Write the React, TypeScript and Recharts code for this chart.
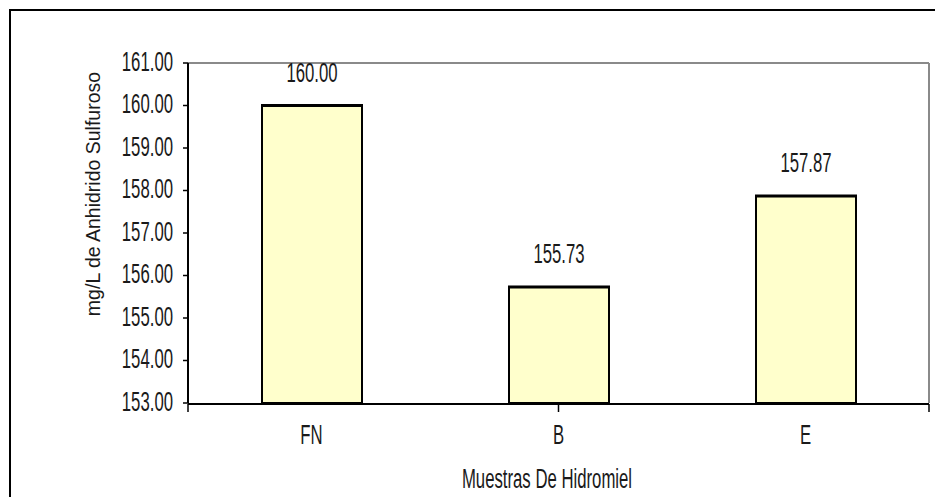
import { BarChart, Bar, XAxis, YAxis, LabelList } from 'recharts';

const muestras = ['FN', 'B', 'E'];
const sulfuroso = [160.0, 155.73, 157.87];
const yTicks = [153, 154, 155, 156, 157, 158, 159, 160, 161];
const edgeTicks = [0, 1, 2, 3];

const data = muestras.map((m, i) => ({ muestra: m, valor: sulfuroso[i] }));

const FONT = '"Liberation Sans", Arial, sans-serif';
const INK = '#1a1a1a';
const NARROW = 0.62;

// Excel-style narrow text
const NarrowText = ({ x, y, anchor, children }: any) => (
  <g transform={`translate(${x},${y})`}>
    <text
      x={0}
      y={0}
      textAnchor={anchor}
      transform={`scale(${NARROW},1)`}
      fontFamily={FONT}
      fontSize={27}
      fill={INK}
    >
      {children}
    </text>
  </g>
);

const YTick = ({ x, y, payload }: any) => (
  <NarrowText x={x} y={y + 7.5} anchor="end">
    {Number(payload.value).toFixed(2)}
  </NarrowText>
);

const XTick = ({ x, y, payload }: any) => (
  <NarrowText x={x} y={y + 41} anchor="middle">
    {payload.value}
  </NarrowText>
);

const NoLabel = () => <g />;

const ValueLabel = ({ x, y, width, value }: any) => (
  <NarrowText x={x + width / 2} y={y - 24} anchor="middle">
    {Number(value).toFixed(2)}
  </NarrowText>
);

const BoxBar = ({ x, y, width, height }: any) => (
  <g>
    <rect x={x} y={y} width={width} height={height} fill="#FFFFCC" stroke="#000" strokeWidth={2} />
    <line x1={x - 1} x2={x + width + 1} y1={y} y2={y} stroke="#000" strokeWidth={3} />
  </g>
);

const YTitle = () => (
  <text
    x={92}
    y={186}
    transform="rotate(-90, 92, 186)"
    textAnchor="middle"
    fontFamily={FONT}
    fontSize={19.5}
    fill={INK}
  >
    mg/L de Anhidrido Sulfuroso
  </text>
);

const XTitle = () => (
  <NarrowText x={539} y={480} anchor="middle">
    Muestras De Hidromiel
  </NarrowText>
);

export default function App() {
  return (
    <div style={{ position: 'relative', width: 935, height: 489, overflow: 'hidden', background: '#fff' }}>
      <div
        style={{
          position: 'absolute',
          left: 1,
          top: 1,
          width: 2000,
          height: 2000,
          border: '2px solid #000',
        }}
      />
      <div style={{ position: 'absolute', left: 0, top: 0 }}>
        <BarChart width={935} height={489} data={data} margin={{ top: 54, right: 13, bottom: 92, left: 0 }}>
          {/* plot frame, top and right in gray */}
          <XAxis
            xAxisId="top"
            orientation="top"
            type="number"
            domain={[0, 3]}
            height={1}
            tick={false}
            tickLine={false}
            axisLine={{ stroke: '#8a8a8a', strokeWidth: 2 }}
          />
          <YAxis
            yAxisId="right"
            orientation="right"
            domain={[153, 161]}
            width={1}
            tick={false}
            tickLine={false}
            axisLine={{ stroke: '#8a8a8a', strokeWidth: 2 }}
          />
          <YAxis
            yAxisId="left"
            domain={[153, 161]}
            ticks={yTicks}
            interval={0}
            width={180}
            tick={<YTick />}
            tickSize={5}
            tickMargin={10}
            tickLine={{ stroke: '#000', strokeWidth: 1.5 }}
            axisLine={{ stroke: '#000', strokeWidth: 2 }}
            label={<YTitle />}
          />
          {/* category boundaries with tick marks */}
          <XAxis
            xAxisId="edge"
            type="number"
            domain={[0, 3]}
            ticks={edgeTicks}
            interval={0}
            height={1}
            tick={<NoLabel />}
            tickSize={8}
            tickLine={{ stroke: '#000', strokeWidth: 1.5 }}
            axisLine={{ stroke: '#000', strokeWidth: 2 }}
          />
          <XAxis
            xAxisId="cat"
            dataKey="muestra"
            height={1}
            tick={<XTick />}
            tickSize={0}
            tickMargin={0}
            tickLine={false}
            axisLine={false}
            label={<XTitle />}
          />
          <Bar
            xAxisId="cat"
            yAxisId="left"
            dataKey="valor"
            barSize={100}
            shape={<BoxBar />}
            isAnimationActive={false}
          >
            <LabelList dataKey="valor" content={<ValueLabel />} />
          </Bar>
        </BarChart>
      </div>
    </div>
  );
}
